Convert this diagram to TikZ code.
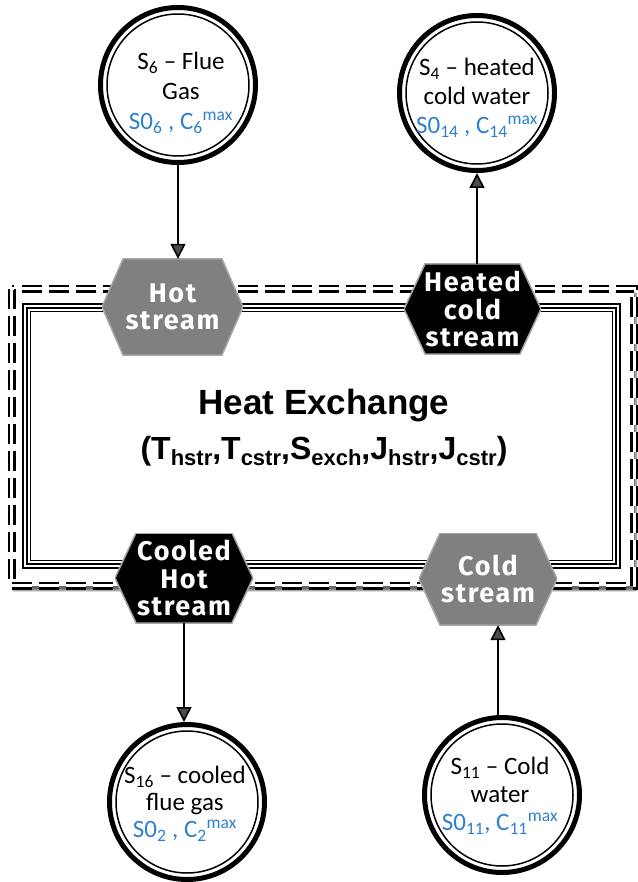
\documentclass[tikz,border=0pt]{standalone}
\usepackage{fontspec}
\setmainfont{Carlito}
\newfontfamily\ttlfont{Liberation Sans}
\newfontfamily\hxfont{Fira Sans}[LetterSpace=6]
\usetikzlibrary{arrows.meta,calc,shadows.blur}
\definecolor{sblue}{RGB}{46,128,206}
\definecolor{hexgray}{RGB}{128,128,128}
\newcommand\hxsub[1]{\raisebox{-6pt}{\fontsize{22}{22}\selectfont #1}}
\begin{document}
\begin{tikzpicture}[x=1pt,y=-1pt,
  hexbase/.style={inner sep=0pt, align=center, text=white,
    font=\hxfont\bfseries\fontsize{27}{27.5}\selectfont},
  hexpic/.style={hexbase, path picture={
    \path[fill=#1, draw=gray!70, line width=1.5pt]
      ([xshift=21pt]path picture bounding box.north west) --
      ([xshift=-21pt]path picture bounding box.north east) --
      (path picture bounding box.east) --
      ([xshift=-21pt]path picture bounding box.south east) --
      ([xshift=21pt]path picture bounding box.south west) --
      (path picture bounding box.west) -- cycle;}},
  ring/.style={circle, draw, line width=5pt, minimum size=155pt, inner sep=0pt},
  ctext/.style={align=center, inner sep=0pt, font=\fontsize{25}{30}\selectfont},
  arr/.style={line width=1.6pt, -{Triangle[length=15pt,width=15pt]}},
  innerring/.style={line width=1.5pt}
]
\useasboundingbox (0,0) rectangle (637,882);

% frame
\fill[white, blur shadow={shadow xshift=2pt, shadow yshift=-5pt, shadow blur steps=8, shadow opacity=60}]
  (11.5,288.5) rectangle (634,585.5);
\draw[line width=2.5pt, double=white, double distance=3pt, dash pattern=on 20pt off 7pt]
  (11.5,288.5) rectangle (634,585.5);
\draw[line width=9pt] (26.5,307.5) rectangle (616,564);
\draw[white, line width=6pt] (26.5,307.5) rectangle (616,564);
\draw[line width=2pt] (26.5,307.5) rectangle (616,564);

% hexagons
\node[hexpic=hexgray, minimum width=141pt, minimum height=96pt] (hot) at (172.5,307) {Hot\\stream};
\node[hexpic=black, minimum width=137pt, minimum height=90pt] (heated) at (472.5,309) {Heated\\cold\\stream};
\node[hexpic=black, minimum width=138pt, minimum height=90pt] (cooled) at (184,578) {Cooled\\Hot\\stream};
\node[hexpic=hexgray, minimum width=138pt, minimum height=92pt] (cold) at (488,579) {Cold\\stream};

% title
\node[anchor=base, inner sep=0pt, font=\ttlfont\bfseries\fontsize{35}{40}\selectfont] (title) at (324,414) {Heat Exchange};
\node[anchor=base, inner sep=0pt, font=\ttlfont\bfseries\fontsize{32}{36}\selectfont] (params) at (324,459)
  {(T\hxsub{hstr},T\hxsub{cstr},S\hxsub{exch},J\hxsub{hstr},J\hxsub{cstr})};

% circles
\node[ring] (tl) at (178,85) {};
\draw[innerring] (tl.center) circle[radius=71pt];
\node[ctext] (tlt) at (181,93) {S\textsubscript{6} – Flue\\Gas\\\textcolor{sblue}{S0\textsubscript{6} , C\textsubscript{6}\textsuperscript{max}}};

\node[ring] (tr) at (477,93) {};
\draw[innerring] (tr.center) circle[radius=71pt];
\node[ctext, font=\fontsize{25}{29}\selectfont] (trt) at (477,98) {S\textsubscript{4} – heated\\cold water\\\textcolor{sblue}{S0\textsubscript{14} , C\textsubscript{14}\textsuperscript{max}}};

\node[ring] (bl) at (187,802) {};
\draw[innerring] (bl.center) circle[radius=71pt];
\node[ctext, font=\fontsize{25}{27}\selectfont] (blt) at (185,804) {S\textsubscript{16} – cooled\\flue gas\\\textcolor{sblue}{S0\textsubscript{2} , C\textsubscript{2}\textsuperscript{max}}};

\node[ring] (br) at (502,795) {};
\draw[innerring] (br.center) circle[radius=71pt];
\node[ctext, font=\fontsize{25}{28}\selectfont] (brt) at (500,796) {S\textsubscript{11} – Cold\\water\\\textcolor{sblue}{S0\textsubscript{11}, C\textsubscript{11}\textsuperscript{max}}};

% connectors
\draw[arr] (tl.south) -- (tl.south |- hot.north);
\draw[arr] (tr.south |- heated.north) -- (tr.south);
\draw[arr] (cooled.south) -- (cooled.south |- bl.north);
\draw[arr] (br.north -| 498,0) -- (cold.south -| 498,0);
\end{tikzpicture}
\end{document}
